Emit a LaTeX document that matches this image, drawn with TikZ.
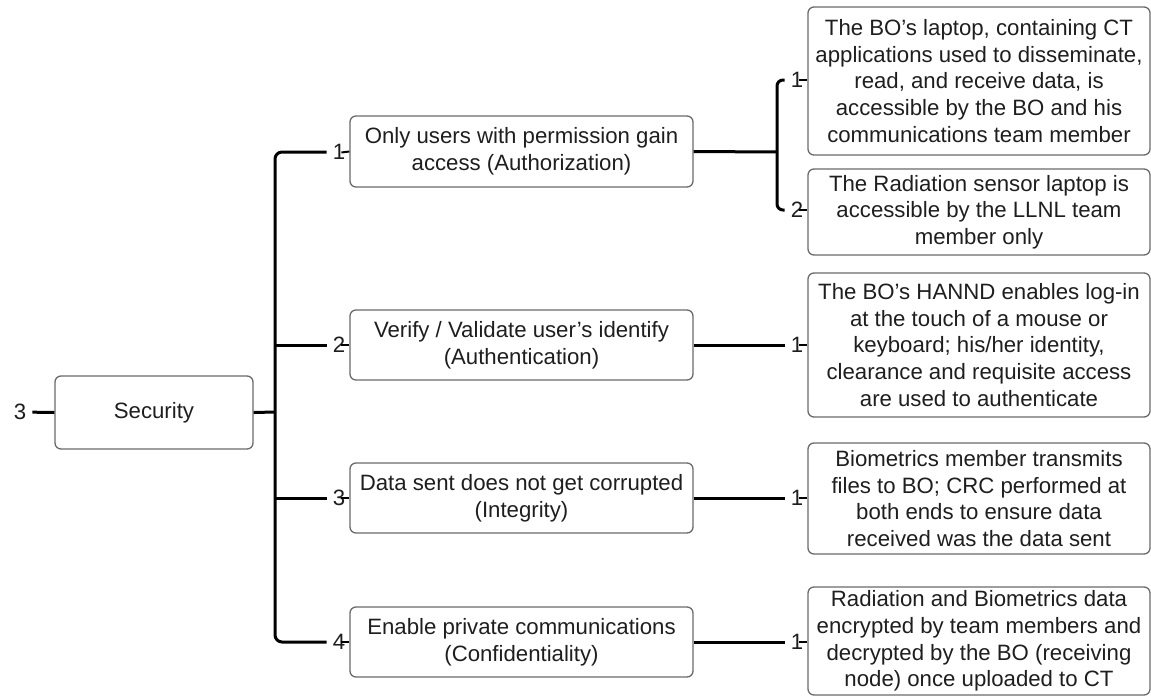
\documentclass[tikz,border=0pt]{standalone}
\usepackage{fontspec}
\setmainfont{Liberation Sans}
\definecolor{boxgray}{HTML}{6A6A6A}
\definecolor{txt}{HTML}{1E1E1E}
\begin{document}
\begin{tikzpicture}[x=1pt,y=-1pt,
  box/.style={draw=boxgray, line width=1.3pt, rounded corners=6pt, align=center,
    inner sep=0pt, text=txt, font=\fontsize{22.2}{26.7}\selectfont},
  lvtwo/.style={box, minimum width=343pt},
  lvthree/.style={box, minimum width=342pt},
  num/.style={inner sep=0pt, text=txt, font=\fontsize{22.2}{26.7}\selectfont},
  conn/.style={line width=3pt, shorten >=6pt},
  stub/.style={line width=2pt, shorten <=-4pt}]
\useasboundingbox (0,0) rectangle (1151,696);

% root
\node[num] (n0) at (20,412) {3};
\node[box, minimum width=198pt, minimum height=73pt] (sec) at (154,412.5) {Security};
\draw[line width=3pt, shorten <=6pt] (n0) -- (sec.west);

% level 2 boxes
\node[lvtwo, minimum height=71pt] (b1) at (521.5,151.5) {Only users with permission gain\\access (Authorization)};
\node[lvtwo, minimum height=70pt] (b2) at (521.5,345) {Verify / Validate user’s identify\\(Authentication)};
\node[lvtwo, minimum height=70pt] (b3) at (521.5,498) {Data sent does not get corrupted\\(Integrity)};
\node[lvtwo, minimum height=70pt] (b4) at (521.5,642) {Enable private communications\\(Confidentiality)};

% level 2 numbers
\node[num] (l1) at (339,152) {1};
\node[num] (l2) at (339,345) {2};
\node[num] (l3) at (339,498) {3};
\node[num] (l4) at (339,642) {4};
\foreach \i in {1,2,3,4}{\draw[stub] (l\i.east) -- (b\i.west);}

\coordinate (t) at (275,412);
\draw[line width=3pt] (sec.east) -- (t);
\draw[conn, shorten <=6pt, rounded corners=7pt] (l1.west) -| (t) |- (l4.west);
\draw[conn] (t |- l2) -- (l2.west);
\draw[conn] (t |- l3) -- (l3.west);

% level 3 boxes
\node[lvthree, minimum height=148pt] (c11) at (979,81) {The BO’s laptop, containing CT\\applications used to disseminate,\\read, and receive data, is\\accessible by the BO and his\\communications team member};
\node[lvthree, minimum height=86pt] (c12) at (979,212) {The Radiation sensor laptop is\\accessible by the LLNL team\\member only};
\node[lvthree, minimum height=144pt] (c2) at (979,345) {The BO’s HANND enables log-in\\at the touch of a mouse or\\keyboard; his/her identity,\\clearance and requisite access\\are used to authenticate};
\node[lvthree, minimum height=111pt] (c3) at (979,498.5) {Biometrics member transmits\\files to BO; CRC performed at\\both ends to ensure data\\received was the data sent};
\node[lvthree, minimum height=108pt] (c4) at (979,641) {Radiation and Biometrics data\\encrypted by team members and\\decrypted by the BO (receiving\\node) once uploaded to CT};

% level 3 numbers
\node[num] (m11) at (797,80) {1};
\node[num] (m12) at (797,210) {2};
\node[num] (m2) at (797,345) {1};
\node[num] (m3) at (797,498) {1};
\node[num] (m4) at (797,642) {1};
\draw[stub] (m11.east) -- (m11.east -| c11.west);
\draw[stub] (m12.east) -- (m12.east -| c12.west);
\draw[stub] (m2.east) -- (m2.east -| c2.west);
\draw[stub] (m3.east) -- (m3.east -| c3.west);
\draw[stub] (m4.east) -- (m4.east -| c4.west);

\coordinate (br) at (777,152);
\draw[line width=3pt] (b1.east) -- (br);
\draw[conn, shorten <=6pt, rounded corners=6pt] (m11.west) -| (br) |- (m12.west);
\draw[conn] (b2.east) -- (m2.west);
\draw[conn] (b3.east) -- (m3.west);
\draw[conn] (b4.east) -- (m4.west);
\end{tikzpicture}
\end{document}
